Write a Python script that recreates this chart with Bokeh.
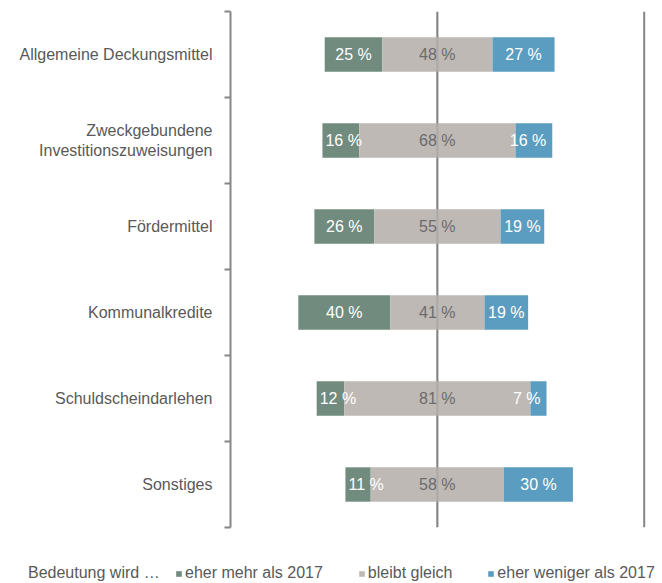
from bokeh.plotting import figure
from bokeh.models import (ColumnDataSource, Range1d, FixedTicker, Span, Legend, LegendItem)
from bokeh.embed import file_html
from bokeh.resources import INLINE

# ---- data -------------------------------------------------------------
categories = ["Allgemeine Deckungsmittel",
              "Zweckgebundene\nInvestitionszuweisungen",
              "Fördermittel",
              "Kommunalkredite",
              "Schuldscheindarlehen",
              "Sonstiges"]
mehr = [25, 16, 26, 40, 12, 11]      # eher mehr als 2017
gleich = [48, 68, 55, 41, 81, 58]    # bleibt gleich
weniger = [27, 16, 19, 19, 7, 30]    # eher weniger als 2017
series_names = ["eher mehr als 2017", "bleibt gleich", "eher weniger als 2017"]
legend_title = "Bedeutung wird …"

# ---- styles -----------------------------------------------------------
C_GREEN = "#718B7E"
C_GRAY = "#BEB9B5"
C_BLUE = "#5B9DC0"
C_LINE = "#868686"
C_TEXT = "#595959"
FONT = "Liberation Sans"

n = len(categories)
ys = [n - i - 0.5 for i in range(n)]

g_left = [-(g / 2 + m) for g, m in zip(gleich, mehr)]
g_right = [-g / 2 for g in gleich]
m_left = [-g / 2 for g in gleich]
m_right = [g / 2 for g in gleich]
b_left = [g / 2 for g in gleich]
b_right = [g / 2 + w for g, w in zip(gleich, weniger)]

def lab(v):
    return f"{v} %"

src_green = ColumnDataSource(dict(
    y=ys, left=g_left, right=g_right, label=[lab(v) for v in mehr],
    lx=[l if v < 18 else (l + r) / 2 for v, l, r in zip(mehr, g_left, g_right)],
    align=["left" if v < 18 else "center" for v in mehr],
    xoff=[3 if v < 18 else 0 for v in mehr]))
src_gray = ColumnDataSource(dict(
    y=ys, left=m_left, right=m_right, label=[lab(v) for v in gleich],
    lx=[(l + r) / 2 for l, r in zip(m_left, m_right)],
    align=["center"] * n, xoff=[0] * n))
src_blue = ColumnDataSource(dict(
    y=ys, left=b_left, right=b_right, label=[lab(v) for v in weniger],
    lx=[r if v < 18 else (l + r) / 2 for v, l, r in zip(weniger, b_left, b_right)],
    align=["right" if v < 18 else "center" for v in weniger],
    xoff=[-6 if v < 18 else 0 for v in weniger]))

p = figure(width=662, height=530, output_backend="svg", toolbar_location=None,
           x_range=Range1d(-90, 91), y_range=Range1d(0, n),
           min_border_left=230, min_border_right=16, min_border_top=11,
           min_border_bottom=3)
p.outline_line_color = None
p.xgrid.visible = False
p.ygrid.visible = False
p.xaxis.visible = False
p.background_fill_color = "white"
p.border_fill_color = "white"

# vertical lines behind the bars
for loc in (0, 90):
    p.add_layout(Span(location=loc, dimension="height", line_color=C_LINE,
                      line_width=2, level="underlay"))

bar_h = 0.4
r_green = p.hbar(y="y", left="left", right="right", height=bar_h, source=src_green,
                 fill_color=C_GREEN, line_color=None)
r_gray = p.hbar(y="y", left="left", right="right", height=bar_h, source=src_gray,
                fill_color=C_GRAY, line_color=None)
r_blue = p.hbar(y="y", left="left", right="right", height=bar_h, source=src_blue,
                fill_color=C_BLUE, line_color=None)

# faint line visible through the bars
p.add_layout(Span(location=0, dimension="height", line_color=C_LINE,
                  line_width=2, line_alpha=0.3))

for src, col in ((src_green, "white"), (src_gray, "#6B6B6B"), (src_blue, "white")):
    p.text(x="lx", y="y", text="label", source=src, text_align="align",
           x_offset="xoff", text_baseline="middle", text_color=col,
           text_font_size="16px", text_font={"value": FONT})

# y axis: labels at row centres, ticks at row boundaries
yax = p.yaxis[0]
yax.ticker = FixedTicker(ticks=ys, minor_ticks=list(range(n + 1)))
yax.major_label_overrides = {y: c for y, c in zip(ys, categories)}
yax.major_tick_out = 0
yax.major_tick_in = 0
yax.minor_tick_out = 6
yax.minor_tick_in = 0
yax.minor_tick_line_color = C_LINE
yax.minor_tick_line_width = 2
yax.axis_line_color = C_LINE
yax.axis_line_width = 2
yax.major_label_standoff = 12
yax.major_label_text_font_size = "16px"
yax.major_label_text_font = FONT
yax.major_label_text_color = C_TEXT

# ---- legend strip (separate root so its frame spans the full width) ----
pl = figure(width=662, height=53, output_backend="svg", toolbar_location=None,
            x_range=Range1d(0, 1), y_range=Range1d(0, 1),
            min_border_left=0, min_border_right=0, min_border_top=0,
            min_border_bottom=0)
pl.outline_line_color = None
pl.xgrid.visible = False
pl.ygrid.visible = False
pl.xaxis.visible = False
pl.yaxis.visible = False

# legend swatch carriers, placed outside the visible range
d_title = pl.hbar(y=[-5], left=[0], right=[1], height=0.1, fill_alpha=0, line_alpha=0)
d_green = pl.hbar(y=[-5], left=[0], right=[1], height=0.1, fill_color=C_GREEN, line_color=None)
d_gray = pl.hbar(y=[-5], left=[0], right=[1], height=0.1, fill_color=C_GRAY, line_color=None)
d_blue = pl.hbar(y=[-5], left=[0], right=[1], height=0.1, fill_color=C_BLUE, line_color=None)

common = dict(orientation="horizontal", padding=0, margin=0, label_height=18,
              border_line_color=None, background_fill_alpha=0,
              label_text_font_size="16px", label_text_font=FONT,
              label_text_color=C_TEXT)
leg_title = Legend(items=[LegendItem(label=legend_title, renderers=[d_title])],
                   location=(27, 1), glyph_width=1, glyph_height=1,
                   label_standoff=0, **common)
leg = Legend(items=[LegendItem(label=series_names[0], renderers=[d_green]),
                    LegendItem(label=series_names[1], renderers=[d_gray]),
                    LegendItem(label=series_names[2], renderers=[d_blue])],
             location=(175, 1), glyph_width=7, glyph_height=7,
             label_standoff=3, spacing=35, **common)
pl.add_layout(leg_title)
pl.add_layout(leg)

open("out.html", "w").write(file_html([p, pl], INLINE))
